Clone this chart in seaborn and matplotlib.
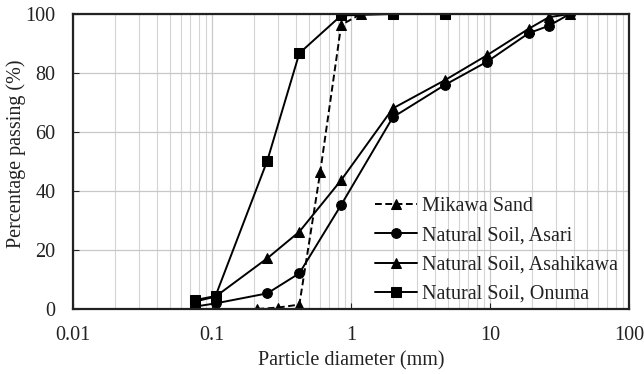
import matplotlib
matplotlib.use("Agg")
import matplotlib.pyplot as plt
import seaborn as sns
import pandas as pd
from matplotlib.ticker import LogLocator, NullFormatter, FixedLocator

# ---- data ----
mikawa_d = [0.212, 0.3, 0.425, 0.6, 0.85, 1.18]
mikawa_p = [0.0, 0.5, 1.5, 46.3, 96.3, 100.0]

asari_d = [0.075, 0.106, 0.25, 0.425, 0.85, 2.0, 4.75, 9.5, 19.0, 26.5, 37.5]
asari_p = [0.8, 1.9, 5.3, 12.1, 35.3, 65.0, 76.0, 83.8, 93.5, 96.0, 100.0]

asahikawa_d = [0.075, 0.106, 0.25, 0.425, 0.85, 2.0, 4.75, 9.5, 19.0, 26.5, 37.5]
asahikawa_p = [2.5, 4.2, 17.2, 26.2, 43.7, 68.0, 77.6, 86.0, 95.0, 98.9, 100.0]

onuma_d = [0.075, 0.106, 0.25, 0.425, 0.85, 2.0, 4.75]
onuma_p = [3.0, 4.4, 50.3, 86.7, 99.5, 100.0, 100.0]

series_names = ["Mikawa Sand", "Natural Soil, Asari", "Natural Soil, Asahikawa", "Natural Soil, Onuma"]

x_ticks = [0.01, 0.1, 1, 10, 100]
x_tick_labels = ["0.01", "0.1", "1", "10", "100"]
y_ticks = [0, 20, 40, 60, 80, 100]

# ---- plot ----
sns.set_theme(style="white")
plt.rcParams["font.family"] = ["Liberation Serif", "Noto Sans CJK JP"]

FS = 14.5
fig = plt.figure(figsize=(6.44, 3.74), dpi=100)
ax = fig.add_axes([73 / 644, 1 - 309 / 374, (629 - 73) / 644, (309 - 14) / 374])

styles = [
    (mikawa_d, mikawa_p, "^", (0, (3.5, 1.8))),
    (asari_d, asari_p, "o", "-"),
    (asahikawa_d, asahikawa_p, "^", "-"),
    (onuma_d, onuma_p, "s", "-"),
]
for name, (d, p, mk, ls) in zip(series_names, styles):
    df = pd.DataFrame({"d": d, "p": p})
    sns.lineplot(data=df, x="d", y="p", ax=ax, color="black", marker=mk,
                 markersize=7, markeredgecolor="black", linewidth=1.4,
                 linestyle=ls, label=name, sort=False, errorbar=None)

ax.set_xscale("log")
ax.set_xlim(0.01, 100)
ax.set_ylim(0, 100)
ax.xaxis.set_major_locator(FixedLocator(x_ticks))
ax.set_xticklabels(x_tick_labels)
ax.xaxis.set_minor_locator(LogLocator(base=10, subs=range(2, 10), numticks=20))
ax.xaxis.set_minor_formatter(NullFormatter())
ax.set_yticks(y_ticks)

ax.grid(True, which="major", color="#c8c8c8", linewidth=0.9)
ax.grid(True, which="minor", axis="x", color="#d4d4d4", linewidth=0.8)
ax.set_axisbelow(True)

for s in ax.spines.values():
    s.set_color("#222222")
    s.set_linewidth(1.6)

ax.tick_params(axis="both", which="major", direction="in", length=4, width=0.8,
               color="#222222", labelsize=FS, labelcolor="#222222",
               bottom=True, left=True)
ax.tick_params(axis="x", which="major", pad=12.5)
ax.tick_params(axis="y", which="major", pad=12.5)
ax.tick_params(axis="x", which="minor", length=0)

ax.set_xlabel("Particle diameter (mm)", fontsize=FS, color="#222222", labelpad=4)
ax.set_ylabel("Percentage passing (%)", fontsize=FS, color="#222222")
ax.yaxis.set_label_coords(-0.085, 0.527)

leg = ax.legend(loc="lower right", bbox_to_anchor=(1.0, -0.02), frameon=False,
                fontsize=FS, handlelength=2.1, handletextpad=0.25,
                labelspacing=0.5, borderaxespad=0.15)
for t in leg.get_texts():
    t.set_color("#222222")

fig.savefig("out.png", dpi=100)
